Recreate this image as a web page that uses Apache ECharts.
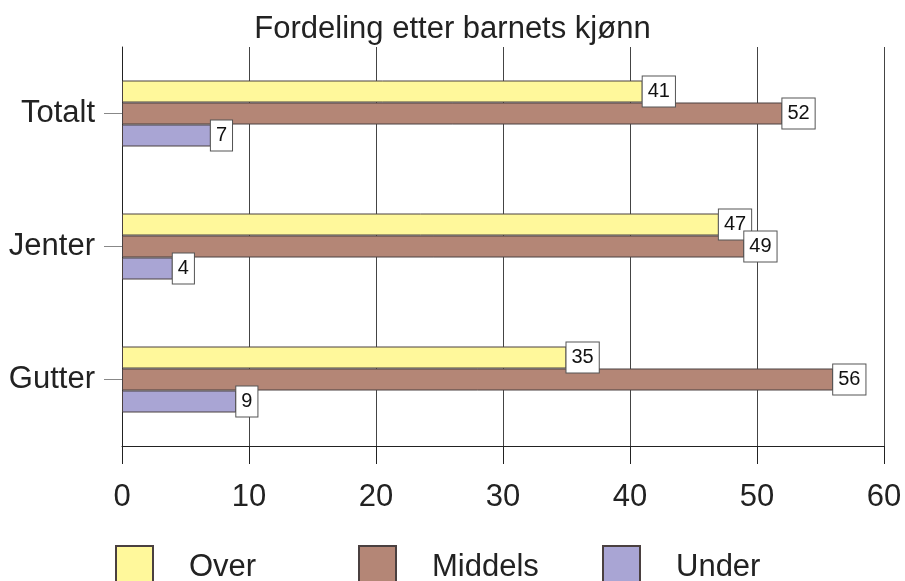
<!DOCTYPE html>
<html>
<head>
<meta charset="utf-8">
<script src="https://cdn.jsdelivr.net/npm/echarts@6/dist/echarts.min.js"></script>
<style>
html,body{margin:0;padding:0;background:#fff;}
#c{width:905px;height:581px;}
</style>
</head>
<body>
<div id="c"></div>
<script>
const categories = ['Totalt', 'Jenter', 'Gutter'];
const seriesNames = ['Over', 'Middels', 'Under'];
const overValues = [41, 47, 35];
const middelsValues = [52, 49, 56];
const underValues = [7, 4, 9];
const xTicks = [0, 10, 20, 30, 40, 50, 60];

const colors = ['#FFF89B', '#B48676', '#A9A5D4'];
const font = '"Liberation Sans", Arial, sans-serif';

const chart = echarts.init(document.getElementById('c'), null, {renderer: 'canvas'});

const labelCfg = {
  show: true,
  position: 'right',
  distance: 0,
  color: '#111',
  fontFamily: font,
  fontSize: 20,
  lineHeight: 20,
  backgroundColor: '#fff',
  borderColor: '#555',
  borderWidth: 1,
  padding: [5, 5, 5, 5]
};

function mkSeries(name, data, color) {
  return {
    name: name,
    type: 'bar',
    data: data,
    barWidth: 22,
    barGap: '0%',
    itemStyle: {color: color, borderColor: '#4a4040', borderWidth: 1},
    label: labelCfg
  };
}

function mkLegend(name, left) {
  return {
    data: [{name: name, icon: 'rect'}],
    left: left,
    top: 545,
    padding: 0,
    itemWidth: 37,
    itemHeight: 42,
    selectedMode: false,
    textStyle: {fontFamily: font, fontSize: 31, color: '#222', padding: [0, 0, 0, 31]}
  };
}

chart.setOption({
  animation: false,
  backgroundColor: '#fff',
  color: colors,
  title: {
    text: 'Fordeling etter barnets kjønn',
    left: 'center',
    top: 9,
    textStyle: {fontFamily: font, fontSize: 31, fontWeight: 'normal', color: '#222'}
  },
  legend: [
    mkLegend(seriesNames[0], 115),
    mkLegend(seriesNames[1], 358),
    mkLegend(seriesNames[2], 602)
  ],
  grid: {left: 122, right: 21, top: 47, bottom: 135, containLabel: false},
  xAxis: {
    type: 'value',
    min: xTicks[0],
    max: xTicks[xTicks.length - 1],
    interval: 10,
    axisLine: {show: true, lineStyle: {color: '#222', width: 1}},
    axisTick: {show: true, length: 18, lineStyle: {color: '#222'}},
    axisLabel: {fontFamily: font, fontSize: 31, color: '#222', margin: 36},
    splitLine: {show: true, lineStyle: {color: '#444', width: 1}}
  },
  yAxis: {
    type: 'category',
    data: categories,
    inverse: true,
    axisLine: {show: true, lineStyle: {color: '#222'}},
    axisTick: {show: true, length: 18, alignWithLabel: true, lineStyle: {color: '#888'}},
    axisLabel: {fontFamily: font, fontSize: 31, color: '#222', margin: 27, padding: [5, 0, 0, 0]},
    splitLine: {show: false}
  },
  series: [
    mkSeries(seriesNames[0], overValues, colors[0]),
    mkSeries(seriesNames[1], middelsValues, colors[1]),
    mkSeries(seriesNames[2], underValues, colors[2])
  ]
});
</script>
</body>
</html>
